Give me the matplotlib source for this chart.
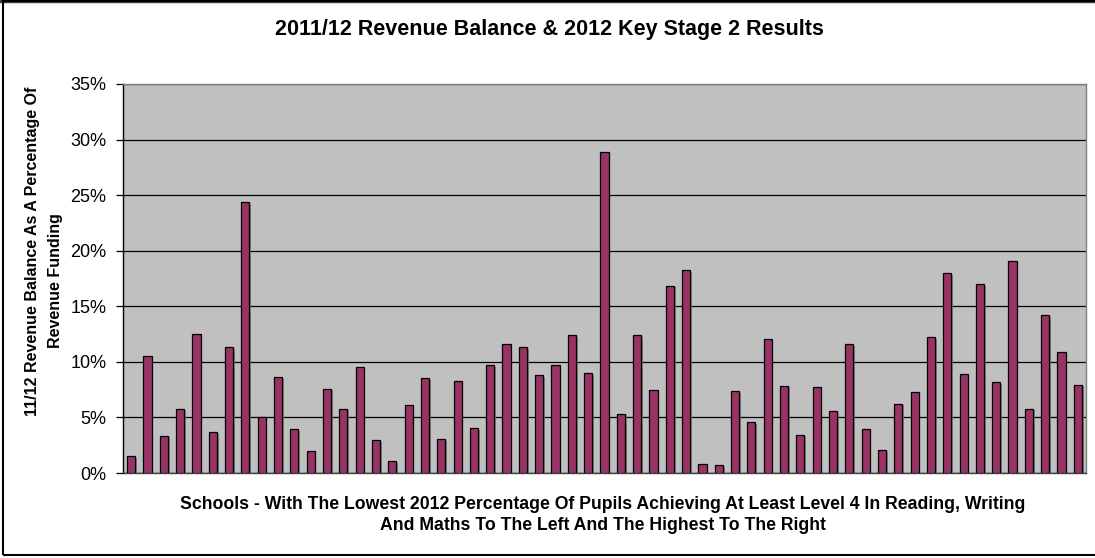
import matplotlib
matplotlib.use("Agg")
import matplotlib.pyplot as plt
import matplotlib.patheffects as pe
from matplotlib.patches import Rectangle
from matplotlib.ticker import FuncFormatter

plt.rcParams["font.family"] = ["Liberation Sans", "DejaVu Sans"]

# Revenue balance (% of revenue funding), schools ordered by 2012 KS2 result
schools = list(range(1, 60))
balance_pct = [
    1.5, 10.5, 3.35, 5.8, 12.5, 3.65, 11.3, 24.35, 5.05, 8.6,
    3.95, 1.95, 7.6, 5.8, 9.55, 2.95, 1.05, 6.15, 8.55, 3.05,
    8.3, 4.05, 9.7, 11.6, 11.3, 8.8, 9.7, 12.4, 9.0, 28.85,
    5.35, 12.4, 7.5, 16.85, 18.25, 0.85, 0.7, 7.35, 4.55, 12.1,
    7.85, 3.45, 7.7, 5.55, 11.6, 3.95, 2.05, 6.25, 7.25, 12.2,
    17.95, 8.9, 17.0, 8.15, 19.05, 5.8, 14.2, 10.9, 7.95,
]
y_ticks = [0, 5, 10, 15, 20, 25, 30, 35]

title = "2011/12 Revenue Balance & 2012 Key Stage 2 Results"
x_label = ("Schools - With The Lowest 2012 Percentage Of Pupils Achieving At Least Level 4 In Reading, Writing\n"
           "And Maths To The Left And The Highest To The Right")
y_label_lines = ["11/12 Revenue Balance As A Percentage Of", "Revenue Funding"]

W, H = 1095, 558
fig = plt.figure(figsize=(W / 100, H / 100), dpi=100)
fig.patch.set_facecolor("white")

ax = fig.add_axes([123 / W, 1 - 473 / H, (1086 - 123) / W, (473 - 84) / H])
ax.set_facecolor("#C0C0C0")

bars = ax.bar(schools, balance_pct, width=0.5, color="#993366",
              edgecolor="black", linewidth=0.9, zorder=3)
for b in bars:
    b.set_path_effects([pe.SimplePatchShadow(offset=(1.2, -1.2), shadow_rgbFace="#707070", alpha=0.8),
                        pe.Normal()])

ax.set_xlim(0.5, len(schools) + 0.5)
ax.set_ylim(0, 35)
ax.set_yticks(y_ticks)
ax.yaxis.set_major_formatter(FuncFormatter(lambda v, _: f"{v:.0f}%"))
ax.set_xticks([])
ax.grid(axis="y", color="black", linewidth=0.9, zorder=1)
ax.set_axisbelow(True)

ax.tick_params(axis="y", direction="out", length=5, width=0.9, color="black",
               labelsize=13, pad=7)
ax.spines["left"].set_color("black")
ax.spines["left"].set_linewidth(1.0)
ax.spines["bottom"].set_color("#404040")
ax.spines["bottom"].set_linewidth(1.0)
ax.spines["top"].set_color("#808080")
ax.spines["top"].set_linewidth(1.0)
ax.spines["right"].set_color("#808080")
ax.spines["right"].set_linewidth(1.0)

fig.text(549 / W, 1 - 30 / H, title, ha="center", va="center",
         fontsize=15.5, fontweight="bold")
fig.text(603 / W, 1 - 515 / H, x_label, ha="center", va="center",
         fontsize=12.7, fontweight="bold", linespacing=1.3)
fig.text(33 / W, 1 - 251 / H, y_label_lines[0], ha="center", va="center", rotation=90,
         fontsize=11.5, fontweight="bold")
fig.text(56 / W, 1 - 281 / H, y_label_lines[1], ha="center", va="center", rotation=90,
         fontsize=11.5, fontweight="bold")

# Outer chart border
fig.patches.append(Rectangle((2.5 / W, 1 - 555 / H), (W + 5) / W, (555 - 1) / H,
                             transform=fig.transFigure, fill=False,
                             edgecolor="black", linewidth=1.5, zorder=10))
fig.lines.append(plt.Line2D([0, 1], [1 - 1 / H, 1 - 1 / H], transform=fig.transFigure,
                            color="#404040", linewidth=2.5))

fig.savefig("out.png", dpi=100)
